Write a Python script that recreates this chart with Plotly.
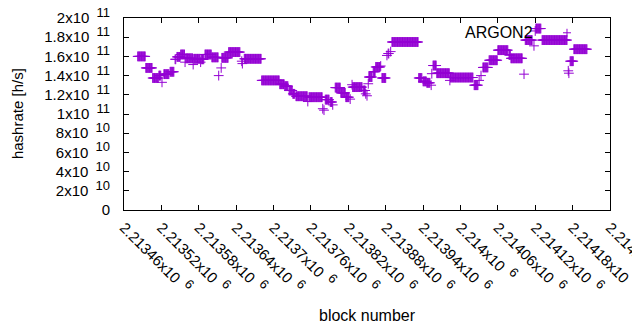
import numpy as np
import plotly.graph_objects as go

# Runs of constant hashrate: first block, last block, hashrate (h/s)
run_first = [2213482, 2213495, 2213506, 2213516, 2213521, 2213524, 2213534, 2213542, 2213545, 2213551,
             2213558, 2213559, 2213571, 2213572, 2213583, 2213584, 2213590, 2213601, 2213612, 2213616,
             2213617, 2213628, 2213649, 2213650, 2213653, 2213681, 2213710, 2213718, 2213725, 2213731,
             2213736, 2213755, 2213757, 2213779, 2213781, 2213783, 2213791, 2213795, 2213799, 2213808,
             2213816, 2213823, 2213826, 2213827, 2213844, 2213848, 2213850, 2213852, 2213853, 2213860,
             2213864, 2213872, 2213874, 2213882, 2213884, 2213888, 2213890, 2213933, 2213940, 2213946,
             2213953, 2213954, 2213956, 2213962, 2213983, 2213984, 2214022, 2214030, 2214033, 2214036,
             2214046, 2214060, 2214078, 2214081, 2214102, 2214104, 2214118, 2214120, 2214121, 2214131,
             2214173, 2214174, 2214176, 2214182]
run_last = [2213494, 2213505, 2213515, 2213519, 2213521, 2213532, 2213540, 2213543, 2213550, 2213557,
            2213558, 2213570, 2213571, 2213582, 2213583, 2213588, 2213600, 2213611, 2213612, 2213616,
            2213627, 2213646, 2213649, 2213650, 2213680, 2213709, 2213717, 2213723, 2213730, 2213734,
            2213754, 2213755, 2213778, 2213779, 2213781, 2213789, 2213794, 2213795, 2213807, 2213815,
            2213821, 2213823, 2213826, 2213842, 2213847, 2213848, 2213850, 2213852, 2213858, 2213863,
            2213871, 2213872, 2213880, 2213882, 2213885, 2213888, 2213932, 2213938, 2213945, 2213951,
            2213953, 2213954, 2213961, 2213982, 2213983, 2214020, 2214028, 2214030, 2214033, 2214044,
            2214059, 2214076, 2214080, 2214099, 2214102, 2214115, 2214118, 2214120, 2214129, 2214171,
            2214173, 2214174, 2214181, 2214203]
run_hashrate = [1.600e11, 1.480e11, 1.375e11, 1.400e11, 1.330e11, 1.415e11, 1.440e11, 1.570e11, 1.595e11, 1.620e11,
                1.540e11, 1.580e11, 1.515e11, 1.575e11, 1.540e11, 1.570e11, 1.620e11, 1.590e11, 1.400e11, 1.480e11,
                1.585e11, 1.645e11, 1.550e11, 1.525e11, 1.575e11, 1.350e11, 1.310e11, 1.290e11, 1.245e11, 1.210e11,
                1.185e11, 1.130e11, 1.175e11, 1.055e11, 1.040e11, 1.150e11, 1.125e11, 1.095e11, 1.275e11, 1.220e11,
                1.175e11, 1.155e11, 1.305e11, 1.280e11, 1.245e11, 1.210e11, 1.190e11, 1.315e11, 1.385e11, 1.440e11,
                1.490e11, 1.500e11, 1.375e11, 1.610e11, 1.630e11, 1.650e11, 1.750e11, 1.375e11, 1.340e11, 1.325e11,
                1.300e11, 1.420e11, 1.505e11, 1.425e11, 1.350e11, 1.380e11, 1.300e11, 1.350e11, 1.400e11, 1.485e11,
                1.560e11, 1.665e11, 1.615e11, 1.580e11, 1.415e11, 1.770e11, 1.710e11, 1.865e11, 1.890e11, 1.770e11,
                1.450e11, 1.425e11, 1.550e11, 1.675e11]

x_tickvals = [2213460, 2213520, 2213580, 2213640, 2213700, 2213760, 2213820, 2213880,
              2213940, 2214000, 2214060, 2214120, 2214180, 2214240]
x_mantissas = ["2.21346", "2.21352", "2.21358", "2.21364", "2.2137", "2.21376", "2.21382",
               "2.21388", "2.21394", "2.214", "2.21406", "2.21412", "2.21418", "2.21424"]
x_exponents = ["6"] * 14
y_tickvals = [0, 2e10, 4e10, 6e10, 8e10, 1e11, 1.2e11, 1.4e11, 1.6e11, 1.8e11, 2e11]
y_mantissas = ["0", "2", "4", "6", "8", "1", "1.2", "1.4", "1.6", "1.8", "2"]
y_exponents = ["", "10", "10", "10", "10", "11", "11", "11", "11", "11", "11"]


def sci_label(m, e):
    if not e:
        return m
    return f'{m}x10\u2009 <sup><span style="font-size:13px">{e}</span></sup>'


x_ticktext = [sci_label(m, e) for m, e in zip(x_mantissas, x_exponents)]
y_ticktext = [sci_label(m, e) for m, e in zip(y_mantissas, y_exponents)]

blocks = []
rates = []
for a, b, v in zip(run_first, run_last, run_hashrate):
    for blk in range(a, b + 1):
        blocks.append(blk)
        rates.append(v)

color = "#9400D3"
fam = "Liberation Sans, Arial, sans-serif"
font = dict(family=fam, size=15, color="black")
font_title = dict(family=fam, size=15, color="black")
font_big = dict(family=fam, size=16, color="black")

fig = go.Figure()
fig.add_trace(go.Scatter(
    x=blocks, y=rates, mode="markers", name="ARGON2", showlegend=False,
    marker=dict(symbol="cross-thin", size=7, color=color, line=dict(color=color, width=1)),
))

axis_common = dict(showline=True, linecolor="black", linewidth=1, mirror="ticks",
                   ticks="inside", ticklen=5, tickcolor="black", showgrid=False, zeroline=False,
                   tickfont=font, automargin=False, ticklabeloverflow="allow")
fig.update_xaxes(range=[2213460, 2214240], tickmode="array", tickvals=x_tickvals,
                 ticktext=x_ticktext, tickangle=45, ticklabelstandoff=2, **axis_common)
fig.update_yaxes(range=[0, 2e11], tickmode="array", tickvals=y_tickvals,
                 ticktext=y_ticktext, ticklabelstandoff=10, **axis_common)

# key text and sample
fig.add_annotation(xref="paper", yref="paper", x=0.846, y=0.922, text="ARGON2",
                   showarrow=False, xanchor="right", yanchor="middle", font=font_big)
px_x = 1.0 / 486
px_y = 1.0 / 192
cx, cy = 0.9115, 0.923
fig.add_shape(type="path", xref="paper", yref="paper",
              path=f"M {cx-4*px_x} {cy} L {cx+4*px_x} {cy} M {cx} {cy-4*px_y} L {cx} {cy+4*px_y}",
              line=dict(color=color, width=1))

# axis titles
fig.add_annotation(xref="paper", yref="paper", x=-0.22, y=0.5, text="hashrate [h/s]",
                   showarrow=False, textangle=-90, xanchor="center", yanchor="middle", font=font_title)
fig.add_annotation(xref="paper", yref="paper", x=0.5, y=-0.55, text="block number",
                   showarrow=False, xanchor="center", yanchor="middle", font=font_big)

# page body has an 8px default margin, so the figure is offset by 8px on screen
fig.update_layout(width=632, height=322, margin=dict(l=116, r=30, t=10, b=120, autoexpand=False),
                  plot_bgcolor="white", paper_bgcolor="white", showlegend=False)

fig.write_html("out.html")
